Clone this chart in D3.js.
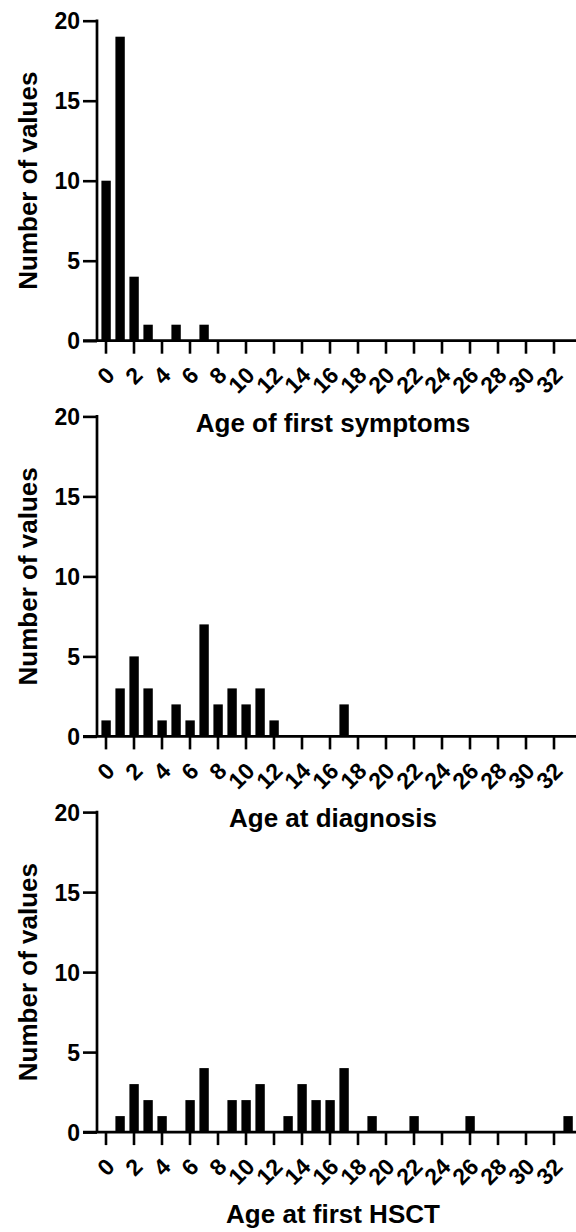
<!DOCTYPE html>
<html>
<head>
<meta charset="utf-8">
<script src="https://cdn.jsdelivr.net/npm/d3@7"></script>
<style>
  html, body { margin: 0; padding: 0; background: #fff; }
  svg { display: block; }
  text { font-family: "Liberation Sans", Arial, sans-serif; font-weight: bold; fill: #000; }
</style>
</head>
<body>
<svg id="chart" width="576" height="1232"></svg>
<script>
// Ages (bins, in years)
const ages = [0,1,2,3,4,5,6,7,8,9,10,11,12,13,14,15,16,17,18,19,20,21,22,23,24,25,26,27,28,29,30,31,32,33];
// Counts per age bin
const symptomsCounts  = [10,19,4,1,0,1,0,1,0,0,0,0,0,0,0,0,0,0,0,0,0,0,0,0,0,0,0,0,0,0,0,0,0,0];
const diagnosisCounts = [1,3,5,3,1,2,1,7,2,3,2,3,1,0,0,0,0,2,0,0,0,0,0,0,0,0,0,0,0,0,0,0,0,0];
const hsctCounts      = [0,1,3,2,1,0,2,4,0,2,2,3,0,1,3,2,2,4,0,1,0,0,1,0,0,0,1,0,0,0,0,0,0,1];
// Axis tick labels
const xTicks = [0,2,4,6,8,10,12,14,16,18,20,22,24,26,28,30,32];
const yTicks = [0,5,10,15,20];
// Panel titles
const xTitles = ["Age of first symptoms", "Age at diagnosis", "Age at first HSCT"];
const yTitle = "Number of values";

const panels = [symptomsCounts, diagnosisCounts, hsctCounts];

const svg = d3.select("#chart");
const W = 576;
const axisX = 97;
const x = d3.scaleLinear().domain([0, 32]).range([105.5, 553.5]);
const unitW = x(1) - x(0);
const barW = unitW * 0.67;

panels.forEach((counts, i) => {
  const zeroY = 340.7 + 395.7 * i;
  const y = d3.scaleLinear().domain([0, 20]).range([zeroY, zeroY - 320]);
  const g = svg.append("g");

  // bars
  g.selectAll("rect.bar")
    .data(ages.map((a, k) => ({ age: a, n: counts[k] })).filter(d => d.n > 0))
    .enter().append("rect")
    .attr("class", "bar")
    .attr("x", d => x(d.age) - barW / 2 + 0.6)
    .attr("width", barW)
    .attr("y", d => y(d.n))
    .attr("height", d => y(0) - y(d.n))
    .attr("fill", "#000");

  // x axis
  const xa = g.append("g")
    .attr("transform", `translate(0,${zeroY})`)
    .call(d3.axisBottom(x).tickValues(xTicks).tickSize(13).tickSizeOuter(0).tickFormat(d3.format("d")));
  xa.select(".domain").remove();
  xa.selectAll(".tick line").attr("stroke", "#000").attr("stroke-width", 2.6);
  xa.selectAll(".tick text")
    .attr("x", 0).attr("y", 0).attr("dy", 0)
    .attr("text-anchor", "end")
    .attr("transform", "translate(10,36) rotate(-45)")
    .style("font-size", "23px")
    .style("font-family", "'Liberation Sans', Arial, sans-serif")
    .style("font-weight", "bold");
  g.append("line")
    .attr("x1", 83).attr("x2", W)
    .attr("y1", zeroY).attr("y2", zeroY)
    .attr("stroke", "#000").attr("stroke-width", 2.7);

  // y axis
  const ya = g.append("g")
    .attr("transform", `translate(${axisX},0)`)
    .call(d3.axisLeft(y).tickValues(yTicks).tickSize(14).tickSizeOuter(0).tickPadding(3));
  ya.select(".domain").remove();
  ya.selectAll(".tick line").attr("stroke", "#000").attr("stroke-width", 2.6);
  ya.selectAll(".tick text")
    .attr("dy", "0.36em")
    .style("font-size", "23px")
    .style("font-family", "'Liberation Sans', Arial, sans-serif")
    .style("font-weight", "bold");
  g.append("line")
    .attr("x1", axisX).attr("x2", axisX)
    .attr("y1", y(20) - 1.3).attr("y2", zeroY)
    .attr("stroke", "#000").attr("stroke-width", 2.7);

  // y title
  g.append("text")
    .attr("transform", `translate(37,${(y(0) + y(20)) / 2}) rotate(-90)`)
    .attr("text-anchor", "middle")
    .style("font-size", "26px")
    .text(yTitle);

  // x title
  g.append("text")
    .attr("x", 333)
    .attr("y", zeroY + 91)
    .attr("text-anchor", "middle")
    .style("font-size", "26px")
    .text(xTitles[i]);
});
</script>
</body>
</html>
